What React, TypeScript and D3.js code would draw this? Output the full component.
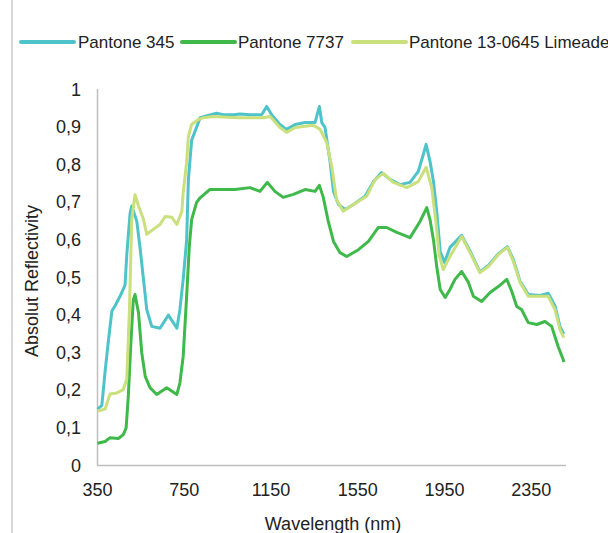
import React from "react";
import * as d3 from "d3";

const W = 608;
const H = 533;

const seriesNames = ["Pantone 345", "Pantone 7737", "Pantone 13-0645 Limeade"];
const seriesColors = ["#4EC3CA", "#3FB94A", "#C9E07C"];

const wl345 = [350,370,385,400,416,431,454,477,485,500,508,531,547,562,577,600,638,677,716,730,745,761,769,784,807,823,855,899,930,976,1007,1053,1107,1130,1153,1191,1222,1261,1307,1353,1373,1384,1399,1422,1438,1461,1492,1530,1584,1622,1660,1699,1745,1791,1829,1852,1865,1883,1899,1914,1930,1950,1975,2029,2068,2113,2152,2198,2240,2267,2298,2336,2391,2428,2459,2482,2500];
const val345 = [0.15,0.16,0.25,0.33,0.41,0.425,0.45,0.48,0.56,0.67,0.69,0.65,0.575,0.495,0.415,0.37,0.365,0.40,0.365,0.415,0.495,0.60,0.76,0.865,0.90,0.925,0.93,0.937,0.933,0.933,0.935,0.933,0.933,0.955,0.933,0.907,0.894,0.907,0.912,0.912,0.955,0.912,0.899,0.809,0.729,0.694,0.681,0.694,0.716,0.755,0.779,0.761,0.747,0.753,0.782,0.827,0.854,0.809,0.755,0.676,0.569,0.54,0.58,0.612,0.57,0.515,0.532,0.563,0.582,0.548,0.49,0.455,0.452,0.458,0.425,0.37,0.35];

const wl7737 = [350,385,408,446,469,482,492,503,515,523,539,554,570,592,623,669,716,730,745,761,773,784,807,823,868,930,983,1053,1099,1133,1168,1206,1253,1307,1353,1373,1391,1414,1438,1468,1499,1553,1599,1645,1683,1730,1791,1837,1868,1883,1899,1914,1930,1953,1975,1998,2029,2060,2083,2121,2160,2198,2237,2260,2283,2305,2336,2375,2413,2444,2474,2497,2500];
const val7737 = [0.059,0.064,0.074,0.072,0.082,0.10,0.184,0.317,0.44,0.455,0.406,0.30,0.237,0.207,0.189,0.207,0.189,0.22,0.29,0.45,0.58,0.654,0.70,0.712,0.734,0.734,0.734,0.739,0.729,0.753,0.729,0.713,0.721,0.734,0.729,0.745,0.713,0.649,0.596,0.566,0.556,0.574,0.596,0.633,0.633,0.62,0.606,0.649,0.686,0.654,0.60,0.529,0.468,0.447,0.468,0.495,0.516,0.487,0.45,0.436,0.46,0.476,0.495,0.463,0.423,0.415,0.38,0.375,0.383,0.37,0.316,0.282,0.275];

const wlLime = [350,385,408,439,469,485,497,508,523,539,562,577,607,638,662,693,716,739,745,761,769,784,815,838,884,998,1115,1146,1191,1222,1261,1345,1376,1407,1430,1452,1483,1530,1591,1630,1668,1714,1776,1829,1865,1891,1910,1925,1944,1975,2029,2068,2113,2152,2198,2240,2267,2298,2336,2391,2428,2459,2482,2500];
const valLime = [0.145,0.15,0.19,0.193,0.202,0.23,0.41,0.655,0.72,0.69,0.655,0.615,0.628,0.641,0.662,0.66,0.641,0.676,0.726,0.806,0.875,0.907,0.92,0.925,0.928,0.925,0.925,0.928,0.899,0.886,0.899,0.905,0.894,0.859,0.795,0.707,0.676,0.694,0.716,0.761,0.777,0.753,0.739,0.755,0.793,0.739,0.649,0.561,0.521,0.556,0.609,0.566,0.513,0.529,0.561,0.58,0.543,0.487,0.45,0.45,0.45,0.415,0.362,0.34];

const xTicks = [350, 750, 1150, 1550, 1950, 2350];
const yTicks = [0, 0.1, 0.2, 0.3, 0.4, 0.5, 0.6, 0.7, 0.8, 0.9, 1];

const FONT = "'Liberation Sans', Arial, sans-serif";

export default function App() {
  const x = d3.scaleLinear().domain([350, 2510]).range([97.5, 566]);
  const y = d3.scaleLinear().domain([0, 1]).range([465.5, 89.5]);

  const series = [
    { wl: wl345, v: val345 },
    { wl: wl7737, v: val7737 },
    { wl: wlLime, v: valLime },
  ];

  const line = d3
    .line<[number, number]>()
    .x((d) => x(d[0]))
    .y((d) => y(d[1]));

  const fmt = (t: number) => (t === 0 ? "0" : t === 1 ? "1" : d3.format(".1f")(t).replace(".", ","));

  const legendItems = [
    { lx: 21, tx: 78 },
    { lx: 182, tx: 238 },
    { lx: 353, tx: 409 },
  ];

  return (
    <svg width={W} height={H} style={{ position: "absolute", left: 0, top: 0, background: "#fff" }}>
      <line x1={12} x2={12} y1={0} y2={H} stroke="#d9d9d9" strokeWidth={2} />

      {/* legend */}
      {legendItems.map((it, i) => (
        <g key={i}>
          <line x1={it.lx} x2={it.lx + 53} y1={42} y2={42} stroke={seriesColors[i]} strokeWidth={4} strokeLinecap="round" />
          <text x={it.tx} y={48} fontFamily={FONT} fontSize={17} fill="#222">
            {seriesNames[i]}
          </text>
        </g>
      ))}

      {/* axes */}
      <line x1={97.5} x2={97.5} y1={89} y2={466} stroke="#bfbfbf" strokeWidth={1.5} />
      <line x1={97} x2={566} y1={465.5} y2={465.5} stroke="#bfbfbf" strokeWidth={1.5} />

      {yTicks.map((t) => (
        <text key={t} x={81} y={y(t) + 6} textAnchor="end" fontFamily={FONT} fontSize={18} fill="#222">
          {fmt(t)}
        </text>
      ))}
      {xTicks.map((t) => (
        <text key={t} x={x(t)} y={496} textAnchor="middle" fontFamily={FONT} fontSize={18} fill="#222">
          {t}
        </text>
      ))}

      {/* series */}
      {series.map((s, i) => (
        <path
          key={i}
          d={line(s.wl.map((w, j) => [w, s.v[j]] as [number, number])) || ""}
          fill="none"
          stroke={seriesColors[i]}
          strokeWidth={3}
          strokeLinejoin="round"
        />
      ))}

      <text x={333} y={530} textAnchor="middle" fontFamily={FONT} fontSize={18} fill="#222">
        Wavelength (nm)
      </text>
      <text
        transform={`translate(38, 281) rotate(-90)`}
        textAnchor="middle"
        fontFamily={FONT}
        fontSize={18}
        fill="#222"
      >
        Absolut Reflectivity
      </text>
    </svg>
  );
}
